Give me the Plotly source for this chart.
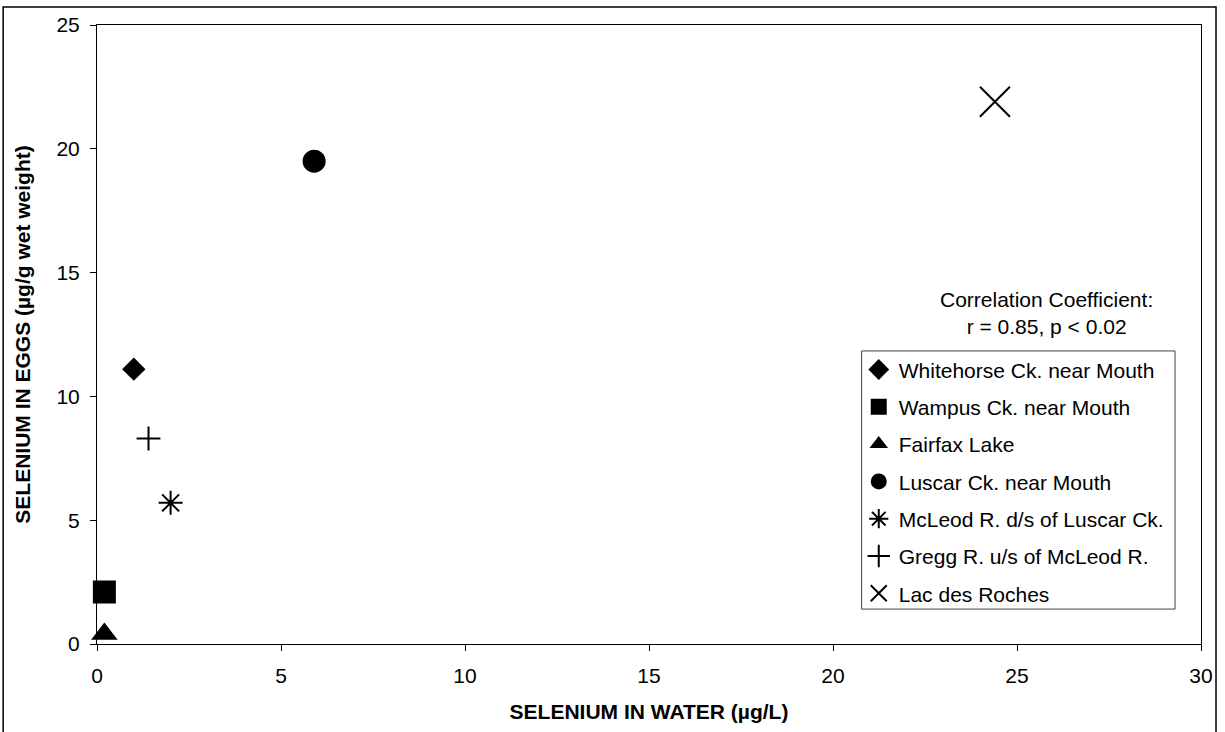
"""Selenium in eggs vs selenium in water, one marker per site."""

import plotly.graph_objects as go

# data
sites = [
    "Whitehorse Ck. near Mouth",
    "Wampus Ck. near Mouth",
    "Fairfax Lake",
    "Luscar Ck. near Mouth",
    "McLeod R. d/s of Luscar Ck.",
    "Gregg R. u/s of McLeod R.",
    "Lac des Roches",
]
se_water = [1.0, 0.2, 0.2, 5.9, 2.0, 1.4, 24.4]
se_eggs = [11.1, 2.1, 0.4, 19.5, 5.7, 8.3, 21.9]

x_ticks = [0, 5, 10, 15, 20, 25, 30]
y_ticks = [0, 5, 10, 15, 20, 25]

# marker style per site (symbol, size, line width)
styles = [
    ("diamond", 18, 0),
    ("square", 23, 0),
    ("triangle-up", 23, 0),
    ("circle", 23, 0),
    ("asterisk-open", 20, 2),
    ("cross-thin-open", 17, 2),
    ("x-thin-open", 30, 2),
]

FONT = "Arial, Liberation Sans, sans-serif"
FS = 21

fig = go.Figure()
for i, (name, sx, sy) in enumerate(zip(sites, se_water, se_eggs)):
    sym, size, lw = styles[i]
    fig.add_trace(
        go.Scatter(
            x=[sx],
            y=[sy],
            mode="markers",
            name=name,
            legendgroup=name,
            cliponaxis=False,
            marker=dict(
                symbol=sym,
                size=size,
                color="black",
                line=dict(color="black", width=lw),
            ),
        )
    )

axis_common = dict(
    showgrid=False,
    zeroline=False,
    showline=True,
    mirror=True,
    linecolor="black",
    linewidth=1,
    ticks="outside",
    ticklen=6,
    tickcolor="black",
    tickfont=dict(family=FONT, size=FS, color="black"),
)

fig.update_layout(
    width=1225,
    height=732,
    paper_bgcolor="white",
    plot_bgcolor="white",
    margin=dict(l=97, r=22, t=25, b=86),
    font=dict(family=FONT, size=FS, color="black"),
    xaxis=dict(
        range=[0, 30],
        tickvals=x_ticks,
        ticklabelstandoff=7,
        title=dict(
            text="<b>SELENIUM IN WATER (µg/L)</b>",
            font=dict(family=FONT, size=FS),
            standoff=18,
        ),
        **axis_common,
    ),
    yaxis=dict(
        range=[0, 25],
        tickvals=y_ticks,
        ticklabelstandoff=6,
        title=dict(
            text="<b>SELENIUM IN EGGS (µg/g wet weight)</b>",
            font=dict(family=FONT, size=FS),
            standoff=20,
        ),
        **axis_common,
    ),
    legend=dict(
        x=0.69,
        y=0.476,
        xanchor="left",
        yanchor="top",
        bgcolor="rgba(0,0,0,0)",
        borderwidth=0,
        font=dict(family=FONT, size=FS),
        tracegroupgap=7,
    ),
    showlegend=True,
)

# correlation note above the legend
fig.add_annotation(
    x=0.86,
    y=0.535,
    xref="paper",
    yref="paper",
    xanchor="center",
    yanchor="middle",
    text="Correlation Coefficient:<br>r = 0.85, p < 0.02",
    showarrow=False,
    font=dict(family=FONT, size=FS),
    align="center",
)

# legend box and the outer chart border
fig.add_shape(
    type="rect", xref="paper", yref="paper",
    x0=0.6926, x1=0.9765, y0=0.0564, y1=0.4734,
    line=dict(color="#404040", width=1), fillcolor="rgba(0,0,0,0)",
)
fig.add_shape(
    type="rect", xref="paper", yref="paper",
    x0=-0.085, x1=1.0136, y0=-0.16, y1=1.029,
    line=dict(color="black", width=1.5), fillcolor="rgba(0,0,0,0)",
)

fig.write_html(
    "out.html",
    config={"displayModeBar": False},
    post_script="document.body.style.margin='0';",
)
